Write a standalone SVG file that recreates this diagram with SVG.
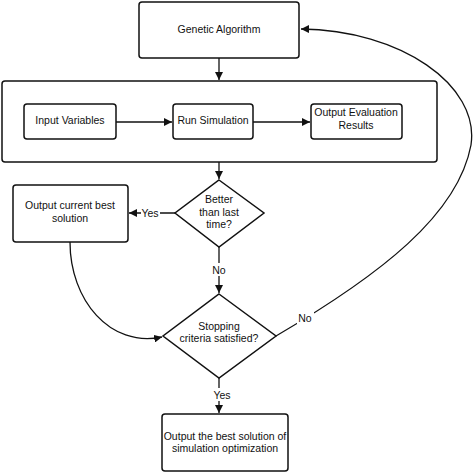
<svg xmlns="http://www.w3.org/2000/svg" width="474" height="473" viewBox="0 0 474 473">
<style>
.box{fill:#fff;stroke:#111;stroke-width:1.5}
.ln{fill:none;stroke:#111;stroke-width:1.3}
text{font-family:"Liberation Sans",Arial,sans-serif;font-size:10.5px;fill:#111;text-anchor:middle}
.lbl{fill:#fff}
</style>
<defs>
<marker id="ah" viewBox="0 0 10 10" refX="10" refY="5" markerWidth="8" markerHeight="8" markerUnits="userSpaceOnUse" orient="auto">
<path d="M0,0 L10,5 L0,10 z" fill="#111"/>
</marker>
</defs>
<rect width="474" height="473" fill="#fff"/>
<g id="simulation-container">
<rect class="box" x="2" y="81" width="435" height="81" rx="3"/>
</g>
<g id="connectors">
<path class="ln" d="M219,58 V80" marker-end="url(#ah)"/>
<path class="ln" d="M116,122 H172" marker-end="url(#ah)"/>
<path class="ln" d="M253,122 H310" marker-end="url(#ah)"/>
<path class="ln" d="M219,162 V179" marker-end="url(#ah)"/>
<path class="ln" d="M175,213 H129" marker-end="url(#ah)"/>
<path class="ln" d="M219,247 V293" marker-end="url(#ah)"/>
<path class="ln" d="M70,242 C70,300 110,348 162,337" marker-end="url(#ah)"/>
<path class="ln" d="M276,336 C380,275 458,215 471,145 C480,85 400,30 301,29" marker-end="url(#ah)"/>
<path class="ln" d="M219,378 V413" marker-end="url(#ah)"/>
<rect class="lbl" x="141" y="206" width="19" height="13"/>
<text x="150" y="216.5">Yes</text>
<rect class="lbl" x="211" y="263" width="16" height="13"/>
<text x="219" y="273.5">No</text>
<rect class="lbl" x="297" y="311" width="17" height="13"/>
<text x="305" y="321.5">No</text>
<rect class="lbl" x="211" y="388" width="22" height="13"/>
<text x="222" y="398.5">Yes</text>
</g>
<g id="genetic-algorithm">
<rect class="box" x="139" y="2" width="160" height="56" rx="3"/>
<text x="219" y="32.5">Genetic Algorithm</text>
</g>
<g id="input-variables">
<rect class="box" x="24" y="104" width="92" height="35" rx="3"/>
<text x="70" y="124">Input Variables</text>
</g>
<g id="run-simulation">
<rect class="box" x="173" y="104" width="80" height="35" rx="3"/>
<text x="213" y="124">Run Simulation</text>
</g>
<g id="output-evaluation">
<rect class="box" x="311" y="104" width="91" height="35" rx="3"/>
<text x="356" y="116">Output Evaluation</text>
<text x="356" y="128.5">Results</text>
</g>
<g id="better-than-last">
<polygon class="box" points="219,180 264,213 219,247 175,213"/>
<text x="219" y="203">Better</text>
<text x="219" y="215.5">than last</text>
<text x="219" y="228">time?</text>
</g>
<g id="output-current-best">
<rect class="box" x="13" y="185" width="115" height="57" rx="3"/>
<text x="70" y="209">Output current best</text>
<text x="70" y="221.5">solution</text>
</g>
<g id="stopping-criteria">
<polygon class="box" points="219,294 276,336 219,378 163,336"/>
<text x="219" y="329.5">Stopping</text>
<text x="219" y="342">criteria satisfied?</text>
</g>
<g id="output-best-solution">
<rect class="box" x="162" y="414" width="126" height="57" rx="3"/>
<text x="225" y="439.5">Output the best solution of</text>
<text x="225" y="452">simulation optimization</text>
</g>
</svg>
